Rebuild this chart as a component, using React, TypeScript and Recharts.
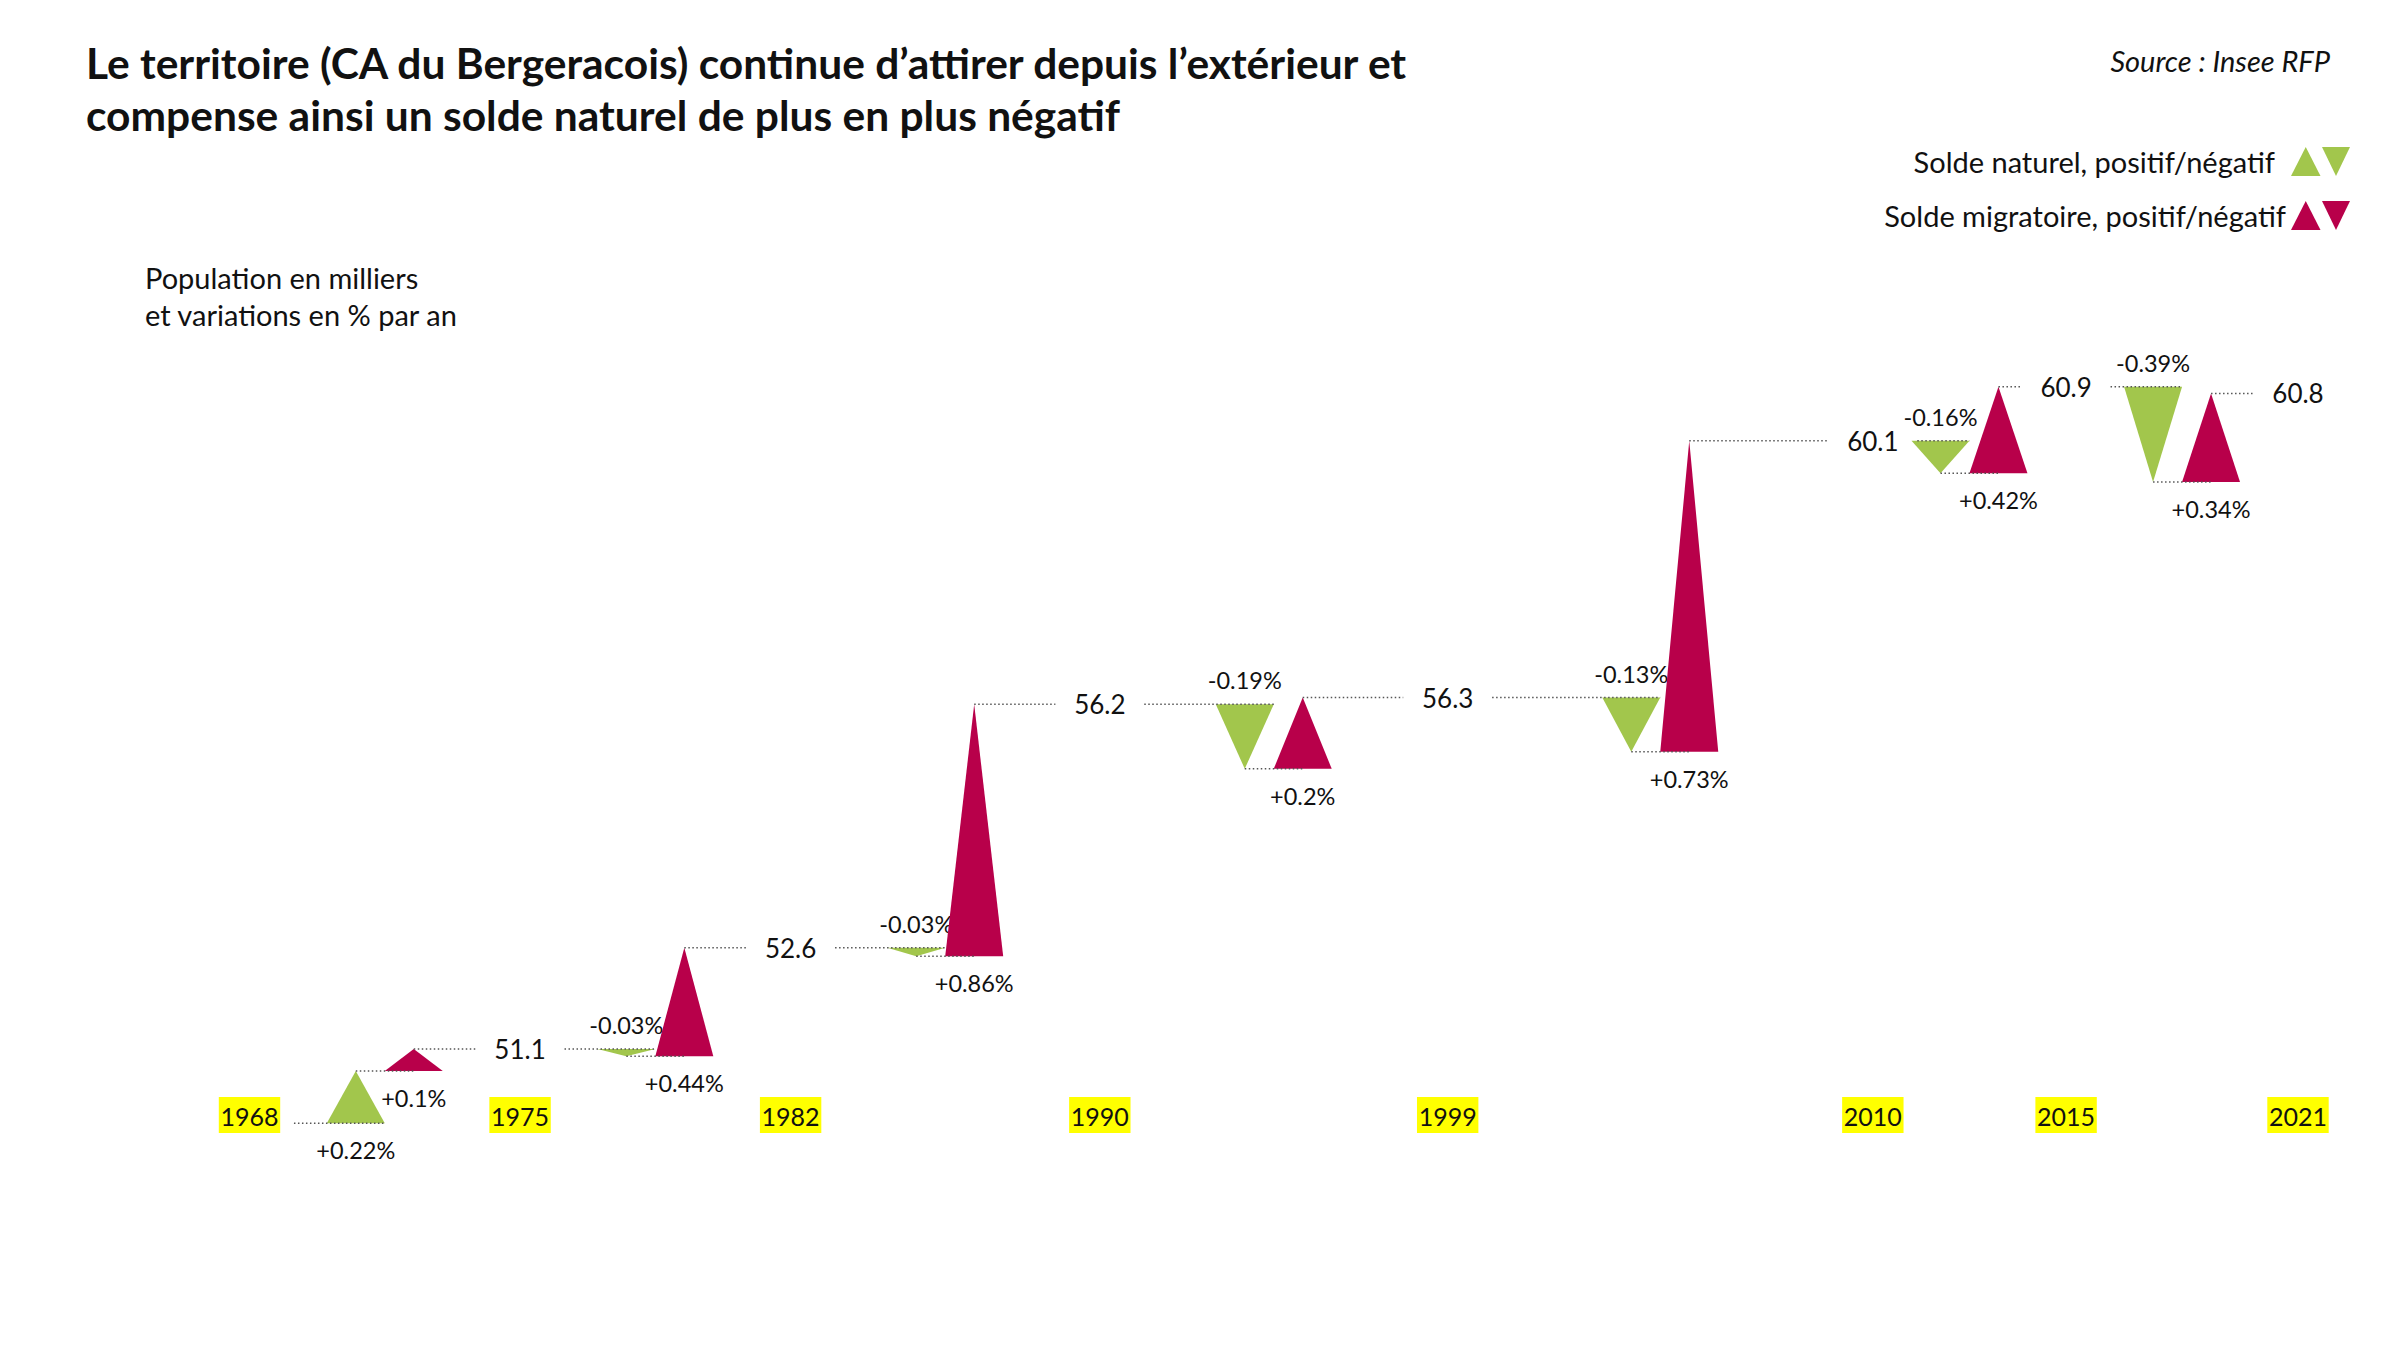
import React from "react";
import { ComposedChart, XAxis, YAxis, Scatter, ReferenceArea, ReferenceLine } from "recharts";

// census years and population (thousands)
const years = [1968, 1975, 1982, 1990, 1999, 2010, 2015, 2021];
const population = [50.0, 51.1, 52.6, 56.2, 56.3, 60.1, 60.9, 60.8];
// yearly rates between two censuses (%/year)
const naturalRate = [0.22, -0.03, -0.03, -0.19, -0.13, -0.16, -0.39];
const migratoryRate = [0.1, 0.44, 0.86, 0.2, 0.73, 0.42, 0.34];

const GREEN = "#A2C64C";
const RED = "#B8004A";
const DOTS = "#555";
const FONT = "Lato, 'Open Sans', sans-serif";

// width of a triangle and half-gap around a population label, in years
const TRI_W = 1.5;
const LABEL_GAP = 1.15;

const periods = naturalRate.map((nat, i) => {
  const from = years[i];
  const to = years[i + 1];
  const start = population[i];
  // level reached with the natural balance alone
  const middle = start * Math.pow(1 + nat / 100, to - from);
  return { from, to, mid: (from + to) / 2, start, middle, end: population[i + 1], nat, mig: migratoryRate[i] };
});

const labelPoints = years.slice(1).map((year, i) => ({ year, pop: population[i + 1] }));

const pct = (v: number) => (v > 0 ? "+" : "") + v + "%";

function triangle(up: boolean, color: string, text: string) {
  return (props: any) => {
    const { x, y, width, height } = props;
    const cx = x + width / 2;
    const d = up
      ? `M${x},${y + height} L${x + width},${y + height} L${cx},${y} Z`
      : `M${x},${y} L${x + width},${y} L${cx},${y + height} Z`;
    const ty = up ? y + height + 27 : y - 24;
    return (
      <g>
        <path d={d} fill={color} />
        <text x={cx} y={ty} textAnchor="middle" dominantBaseline="central" fontSize={23.5} fontFamily={FONT} fill="#111">
          {text}
        </text>
      </g>
    );
  };
}

const YearTick = (props: any) => {
  const { x, y, payload } = props;
  return (
    <g>
      <rect x={x - 30.7} y={y} width={61.4} height={36} fill="#FFFF00" />
      <text x={x} y={y + 19} textAnchor="middle" dominantBaseline="central" fontSize={25} fontFamily={FONT} fill="#111">
        {payload.value}
      </text>
    </g>
  );
};

const PopLabel = (props: any) => {
  const { cx, cy, payload } = props;
  return (
    <text x={cx} y={cy} textAnchor="middle" dominantBaseline="central" fontSize={26} fontFamily={FONT} fill="#111">
      {payload.pop.toFixed(1)}
    </text>
  );
};

const dotted = (key: string, a: number, b: number, level: number) => (
  <ReferenceLine
    key={key}
    segment={[{ x: a, y: level }, { x: b, y: level }]}
    stroke={DOTS}
    strokeWidth={1.5}
    strokeDasharray="1.5 2.5"
    ifOverflow="visible"
  />
);

const LegendMarks = ({ color }: { color: string }) => (
  <svg width={60} height={30} style={{ position: "absolute", left: 2291 }}>
    <polygon points="0,29 29.5,29 14.75,0" fill={color} />
    <polygon points="31,0 59,0 45,29" fill={color} />
  </svg>
);

export default function App() {
  const areas = periods.flatMap((p, i) => [
    <ReferenceArea
      key={`n${i}`}
      x1={p.mid - TRI_W}
      x2={p.mid}
      y1={p.start}
      y2={p.middle}
      ifOverflow="visible"
      shape={triangle(p.nat > 0, GREEN, pct(p.nat))}
    />,
    <ReferenceArea
      key={`m${i}`}
      x1={p.mid}
      x2={p.mid + TRI_W}
      y1={p.middle}
      y2={p.end}
      ifOverflow="visible"
      shape={triangle(p.end > p.middle, RED, pct(p.mig))}
    />,
  ]);

  const lines = periods.flatMap((p, i) => [
    dotted(`s${i}`, p.from + LABEL_GAP, p.mid, p.start),
    dotted(`i${i}`, p.mid - TRI_W / 2, p.mid + TRI_W / 2, p.middle),
    dotted(`e${i}`, p.mid + TRI_W / 2, p.to - LABEL_GAP, p.end),
  ]);

  return (
    <div style={{ position: "absolute", left: 0, top: 0, width: 2400, height: 1350, background: "#fff", fontFamily: FONT, color: "#111" }}>
      <div style={{ position: "absolute", left: 86, top: 37, fontSize: 42.5, fontWeight: 700, lineHeight: "52px", whiteSpace: "nowrap" }}>
        <div>Le territoire (CA du Bergeracois) continue d’attirer depuis l’extérieur et</div>
        <div>compense ainsi un solde naturel de plus en plus négatif</div>
      </div>
      <div style={{ position: "absolute", right: 70, top: 43, fontSize: 29, fontStyle: "italic", lineHeight: "36px" }}>
        Source : Insee RFP
      </div>
      <div style={{ position: "absolute", left: 0, top: 147, width: 2400, height: 30 }}>
        <div style={{ position: "absolute", right: 125, top: -3, fontSize: 29, lineHeight: "36px" }}>Solde naturel, positif/négatif</div>
        <LegendMarks color={GREEN} />
      </div>
      <div style={{ position: "absolute", left: 0, top: 201, width: 2400, height: 30 }}>
        <div style={{ position: "absolute", right: 114, top: -3, fontSize: 29, lineHeight: "36px" }}>Solde migratoire, positif/négatif</div>
        <LegendMarks color={RED} />
      </div>
      <div style={{ position: "absolute", left: 145, top: 259, fontSize: 29, lineHeight: "37px" }}>
        <div>Population en milliers</div>
        <div>et variations en % par an</div>
      </div>
      <div style={{ position: "absolute", left: 0, top: 0 }}>
        <ComposedChart width={2400} height={1350} margin={{ top: 278.6, right: 102, bottom: 213, left: 249.5 }}>
          <XAxis
            type="number"
            dataKey="year"
            domain={[1968, 2021]}
            ticks={years}
            interval={0}
            axisLine={false}
            tickLine={false}
            tickSize={0}
            tickMargin={0}
            height={40}
            tick={(p: any) => <YearTick {...p} />}
          />
          <YAxis type="number" dataKey="pop" domain={[50.39, 62.5]} hide />
          {areas}
          {lines}
          <Scatter data={labelPoints} dataKey="pop" shape={PopLabel} isAnimationActive={false} />
        </ComposedChart>
      </div>
    </div>
  );
}
